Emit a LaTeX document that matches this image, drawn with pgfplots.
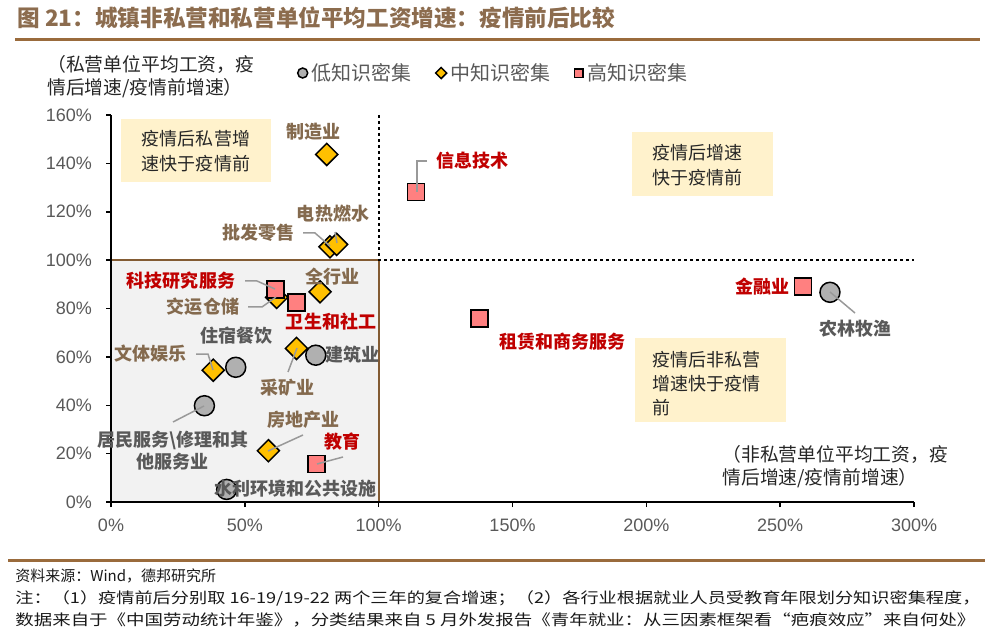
\documentclass[border=0pt]{standalone}
\usepackage{pgfplots}
\pgfplotsset{compat=1.18}
\usepackage{graphicx}
\usepackage{fontspec}
\setmainfont{Liberation Sans}
\newfontfamily\cjk{Noto Sans CJK SC}
\definecolor{brn}{HTML}{9A6B3C}
\definecolor{ttl}{HTML}{8C6C4E}
\definecolor{labb}{HTML}{846A4E}
\definecolor{gry}{HTML}{595959}
\definecolor{labr}{HTML}{C00000}
\definecolor{lowc}{HTML}{B0B0B0}
\definecolor{midc}{HTML}{FFC000}
\definecolor{hic}{HTML}{FF8080}
\definecolor{beige}{HTML}{FFF2CC}
\definecolor{boxg}{HTML}{F2F2F2}
\newcommand\nine{\fontsize{9bp}{12.5bp}\selectfont}
\begin{document}
\begin{tikzpicture}
% pixel frame: 1px = 0.5bp, origin top left
\begin{scope}[x=0.5bp,y=-0.5bp]
  \useasboundingbox (0,0) rectangle (993,643);
  \fill[boxg] (111,260) rectangle (379,502);
  \draw[brn!85!black, line width=0.6bp] (111,260) rectangle (379,502);
  \draw[dash pattern=on 1.5bp off 1.5bp, line width=0.6bp] (379,115) -- (379,260) -- (914,260);
  % shaded notes
  \fill[beige] (121,119) rectangle (271,182);
  \fill[beige] (632,132) rectangle (773,196);
  \fill[beige] (635,338) rectangle (786,422);
  \node[align=left, text=black!85, font=\cjk\nine, inner sep=0] at (196,151) {疫情后私营增\\速快于疫情前};
  \node[align=left, anchor=west, text=black!85, font=\cjk\nine, inner sep=0] at (652,165) {疫情后增速\\快于疫情前};
  \node[align=left, anchor=west, text=black!85, font=\cjk\fontsize{9bp}{12bp}\selectfont, inner sep=0] at (652,384) {疫情后非私营\\增速快于疫情\\前};
  % title and rules
  \node[anchor=west, text=ttl, font=\cjk\bfseries\fontsize{11.3bp}{13bp}\selectfont, inner sep=0] at (17,18) {图 21：城镇非私营和私营单位平均工资增速：疫情前后比较};
  \draw[brn, line width=1.5bp] (15,40) -- (980,40);
  \draw[brn, line width=1.5bp] (8,560) -- (985,560);
  % axis titles
  \node[align=left, anchor=west, text=black!85, font=\cjk\fontsize{9.4bp}{11.5bp}\selectfont, inner sep=0] at (47,77) {（私营单位平均工资，疫\\情后增速/疫情前增速）};
  \node[align=left, anchor=west, text=black!85, font=\cjk\fontsize{9.4bp}{11.5bp}\selectfont, inner sep=0] at (722,467) {（非私营单位平均工资，疫\\情后增速/疫情前增速）};
  % footer
  \begin{scope}[every node/.style={anchor=west, inner sep=0, text=black!90, font=\cjk\fontsize{7.5bp}{9bp}\selectfont}]
    \node at (15,576) {资料来源：Wind，德邦研究所};
    \node at (15,598) {\resizebox{482.5bp}{\height}{注：（1）疫情前后分别取 16-19/19-22 两个三年的复合增速；（2）各行业根据就业人员受教育年限划分知识密集程度，}};
    \node at (15,620) {\resizebox{480bp}{\height}{数据来自于《中国劳动统计年鉴》，分类结果来自 5 月外发报告《青年就业：从三因素框架看“疤痕效应”来自何处》}};
  \end{scope}
\end{scope}

\begin{axis}[
  at={(55.5bp,-251bp)}, anchor=south west,
  scale only axis, width=401.5bp, height=193.5bp,
  xmin=0, xmax=300, ymin=0, ymax=160,
  axis lines=left, axis line style={-, line width=0.75bp, black},
  xtick={0,50,...,300}, ytick={0,20,...,160},
  tick align=outside, major tick length=2.5bp,
  tick style={black, line width=0.75bp},
  xticklabel={\pgfmathprintnumber{\tick}\%},
  yticklabel={\pgfmathprintnumber{\tick}\%},
  /pgf/number format/assume math mode=true,
  tick label style={font=\fontsize{9bp}{10bp}\selectfont, text=gry},
  xticklabel style={yshift=-2.5bp},
  yticklabel style={xshift=-3.5bp},
  clip=false,
  legend columns=3,
  legend style={draw=none, fill=none, at={(0.232,1.1085)}, anchor=west,
    font=\cjk\fontsize{10bp}{11bp}\selectfont, text=gry, inner sep=0pt,
    /tikz/every even column/.append style={column sep=10bp}},
  legend image post style={scale=0.5},
]
\addplot[only marks, mark=*, mark size=5bp, mark options={fill=lowc, draw=black, line width=0.75bp}]
  coordinates {(46.6,55.7) (76.5,60.7) (34.9,39.8) (43.2,5.2) (268.6,86.7)};
\addlegendentry{低知识密集}
\addplot[only marks, mark=square*, mark size=3.9bp, mark options={rotate=45, fill=midc, draw=black, line width=0.75bp}]
  coordinates {(80.6,143.7) (81.8,105.5) (84.3,106.5) (78.1,86.9) (61.9,84.6) (69.3,63.5) (38.2,54.5) (58.8,21.2)};
\addlegendentry{中知识密集}
\addplot[only marks, mark=square*, mark size=4.25bp, mark options={fill=hic, draw=black, line width=0.75bp}]
  coordinates {(113.9,128.2) (137.6,75.9) (258.6,89.0) (61.5,87.9) (69.3,82.4) (76.8,15.7)};
\addlegendentry{高知识密集}
\end{axis}

\begin{scope}[x=0.5bp,y=-0.5bp]
  % callout lines
  \begin{scope}[black!40, line width=0.75bp]
    \draw (303,233) -- (315,233) -- (330,246);
    \draw (335,232) -- (337,243);
    \draw (245,281) -- (257,281) -- (275,289);
    \draw (248,307) -- (262,307) -- (276,297);
    \draw (196,354) -- (208,354) -- (213,370);
    \draw (288,372) -- (297,348);
    \draw (173,422) -- (204,406);
    \draw (303,435) -- (268,451);
    \draw (343,457) -- (317,464);
    \draw (427,161) -- (417,161) -- (417,192);
    \draw (855,313) -- (830,292);
  \end{scope}
  \begin{scope}[every node/.style={inner sep=0, font=\cjk\bfseries\fontsize{9bp}{11bp}\selectfont}]
    % low
    \node[text=gry] at (236,336) {住宿餐饮};
    \node[text=gry] at (352,355) {建筑业};
    \node[text=gry, align=center] at (173,451) {居民服务\textbackslash 修理和其\\他服务业};
    \node[text=gry] at (295,489) {水利环境和公共设施};
    \node[text=gry] at (855,329) {农林牧渔};
    % medium
    \node[text=labb] at (313,132) {制造业};
    \node[text=labb] at (333,214) {电热燃水};
    \node[text=labb] at (258,233) {批发零售};
    \node[text=labb] at (332,277) {全行业};
    \node[text=labb] at (203,307) {交运仓储};
    \node[text=labb] at (150,354) {文体娱乐};
    \node[text=labb] at (287,388) {采矿业};
    \node[text=labb] at (303,420) {房地产业};
    % high
    \node[text=labr] at (181,281) {科技研究服务};
    \node[text=labr] at (331,322) {卫生和社工};
    \node[text=labr] at (342,442) {教育};
    \node[text=labr] at (472,161) {信息技术};
    \node[text=labr] at (562,342) {租赁和商务服务};
    \node[text=labr] at (762,287) {金融业};
  \end{scope}
\end{scope}
\end{tikzpicture}
\end{document}
